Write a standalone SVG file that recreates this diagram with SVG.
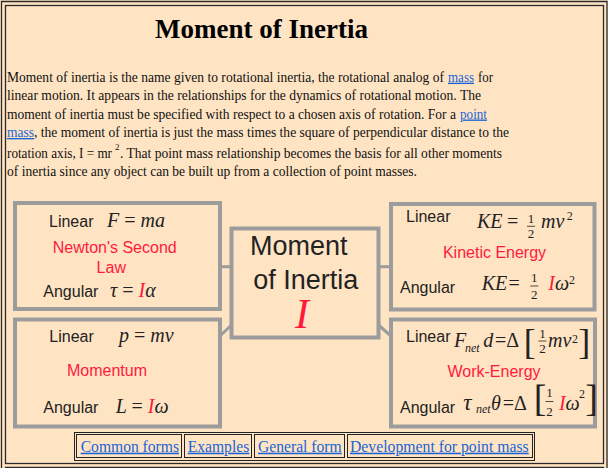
<svg xmlns="http://www.w3.org/2000/svg" width="608" height="468" viewBox="0 0 608 468">
<style>
.frame{fill:none;stroke:#2a2a2a;stroke-width:1.3}
.body{font-family:"Liberation Serif","Times New Roman",serif;font-size:13.6px;fill:#111}
.lnk{fill:#1a64d6;text-decoration:underline}
.title{font-family:"Liberation Serif","Times New Roman",serif;font-size:27px;font-weight:bold;fill:#000}
.box{fill:#ffe4c4;stroke:#9c9c9c;stroke-width:4}
.conn{stroke:#9c9c9c;stroke-width:3;fill:none}
.lbl{font-family:"Liberation Sans",Arial,sans-serif;font-size:16px;fill:#222}
.big{font-family:"Liberation Sans",Arial,sans-serif;font-size:27px;fill:#222}
.m{font-family:"Liberation Serif","Times New Roman",serif;font-style:italic;font-size:20px;fill:#222}
.r{font-style:normal}
.fr{font-family:"Liberation Serif","Times New Roman",serif;font-size:13px;fill:#222}
.sup{font-family:"Liberation Serif","Times New Roman",serif;font-size:12px;fill:#222}
.sub{font-family:"Liberation Serif","Times New Roman",serif;font-style:italic;font-size:12px;fill:#222}
.br{font-family:"Liberation Serif","Times New Roman",serif;fill:#222}
.bar{stroke:#222;stroke-width:0.8}
.cell{fill:none;stroke:#222;stroke-width:1}
.nav{font-family:"Liberation Serif","Times New Roman",serif;font-size:15.7px;fill:#1a64d6;text-decoration:underline}
.red{fill:#ff1a3c}
</style>
<rect x="0" y="0" width="608" height="468" fill="#ffe4c4"/>
<path class="frame" d="M1.5,468V1.5H607V468"/>
<rect class="frame" x="5.5" y="5.5" width="598" height="458"/>
<path class="frame" d="M5.5,468V467.5H603.5V468"/>

<text class="title" x="261.5" y="38" text-anchor="middle">Moment of Inertia</text>

<g id="intro">
<text class="body" x="7" y="81.7" textLength="437" lengthAdjust="spacingAndGlyphs">Moment of inertia is the name given to rotational inertia, the rotational analog of</text>
<text class="body lnk" x="448" y="81.7" textLength="26" lengthAdjust="spacingAndGlyphs">mass</text>
<text class="body" x="478" y="81.7" textLength="15" lengthAdjust="spacingAndGlyphs">for</text>
<text class="body" x="7" y="100" textLength="474" lengthAdjust="spacingAndGlyphs">linear motion. It appears in the relationships for the dynamics of rotational motion. The</text>
<text class="body" x="7" y="118.5" textLength="449" lengthAdjust="spacingAndGlyphs">moment of inertia must be specified with respect to a chosen axis of rotation. For a</text>
<text class="body lnk" x="460" y="118.5" textLength="27" lengthAdjust="spacingAndGlyphs">point</text>
<text class="body lnk" x="7" y="137" textLength="27" lengthAdjust="spacingAndGlyphs">mass</text>
<text class="body" x="34" y="137" textLength="475" lengthAdjust="spacingAndGlyphs">, the moment of inertia is just the mass times the square of perpendicular distance to the</text>
<text class="body" x="7" y="158" textLength="105" lengthAdjust="spacingAndGlyphs">rotation axis, I = mr</text>
<text class="body" x="115" y="150" style="font-size:9px">2</text>
<text class="body" x="120" y="158" textLength="382" lengthAdjust="spacingAndGlyphs">. That point mass relationship becomes the basis for all other moments</text>
<text class="body" x="7" y="176" textLength="410" lengthAdjust="spacingAndGlyphs">of inertia since any object can be built up from a collection of point masses.</text>
</g>

<g id="connectors">
<line class="conn" x1="220" y1="266.7" x2="232" y2="266.7"/>
<line class="conn" x1="378" y1="266.7" x2="391" y2="266.7"/>
<line class="conn" x1="231.5" y1="325" x2="220" y2="336"/>
<line class="conn" x1="378.5" y1="325" x2="391" y2="336"/>
</g>

<g id="newton">
<rect class="box" x="15" y="203" width="205" height="106"/>
<text class="lbl" x="49" y="227">Linear</text>
<text class="m" x="107" y="227">F <tspan class="r">=</tspan> ma</text>
<text class="lbl red" x="114.7" y="253.3" text-anchor="middle">Newton's Second</text>
<text class="lbl red" x="111.3" y="272.7" text-anchor="middle">Law</text>
<text class="lbl" x="43.3" y="296.7">Angular</text>
<text class="m" x="110" y="296.7">τ <tspan class="r">=</tspan> <tspan class="red">I</tspan>α</text>
</g>

<g id="momentum">
<rect class="box" x="15" y="319.5" width="205" height="107"/>
<text class="lbl" x="49.3" y="341.7">Linear</text>
<text class="m" x="119" y="341.7">p <tspan class="r">=</tspan> mv</text>
<text class="lbl red" x="107" y="376" text-anchor="middle">Momentum</text>
<text class="lbl" x="43.3" y="412.7">Angular</text>
<text class="m" x="115.7" y="412.7">L <tspan class="r">=</tspan> <tspan class="red">I</tspan>ω</text>
</g>

<g id="center">
<rect class="box" x="231.5" y="228.5" width="147" height="109"/>
<text class="big" x="250" y="255">Moment</text>
<text class="big" x="253.3" y="289.3">of Inertia</text>
<text class="m red" x="302" y="328" text-anchor="middle" style="font-size:42px">I</text>
</g>

<g id="kinetic">
<rect class="box" x="391" y="204" width="203.5" height="105.5"/>
<text class="lbl" x="406" y="221.7">Linear</text>
<text class="m" y="228.3"><tspan x="477">KE</tspan><tspan x="507" class="r">=</tspan><tspan x="541">mv</tspan></text>
<text class="fr" x="531" y="223" text-anchor="middle">1</text>
<line class="bar" x1="527" y1="226.3" x2="535" y2="226.3"/>
<text class="fr" x="531" y="237.6" text-anchor="middle">2</text>
<text class="sup" x="566.7" y="220">2</text>
<text class="lbl red" x="494.5" y="258.3" text-anchor="middle">Kinetic Energy</text>
<text class="lbl" x="400" y="292.7">Angular</text>
<text class="m" y="290"><tspan x="481.7">KE</tspan><tspan x="508.5" class="r">=</tspan><tspan x="548.3" class="red">I</tspan><tspan>ω</tspan></text>
<text class="fr" x="534.3" y="282.3" text-anchor="middle">1</text>
<line class="bar" x1="530.3" y1="286" x2="538.3" y2="286"/>
<text class="fr" x="534.3" y="299.3" text-anchor="middle">2</text>
<text class="sup" x="569" y="284.3">2</text>
</g>

<g id="work">
<rect class="box" x="391" y="319.5" width="204" height="107"/>
<text class="lbl" x="406" y="341.7">Linear</text>
<text class="m" x="454" y="346.7">F</text>
<text class="sub" x="465" y="351.7">net</text>
<text class="m" x="483.3" y="346.7">d</text>
<text class="m r" x="495" y="346.7">=Δ</text>
<text class="br" x="523.7" y="354" font-size="36">[</text>
<text class="fr" x="542.5" y="338" text-anchor="middle">1</text>
<line class="bar" x1="538.5" y1="341" x2="546.5" y2="341"/>
<text class="fr" x="542.5" y="352.7" text-anchor="middle">2</text>
<text class="m" x="548" y="346.7">mv</text>
<text class="sup" x="572" y="342.5">2</text>
<text class="br" x="578.3" y="354" font-size="36">]</text>
<text class="lbl red" x="494" y="376.7" text-anchor="middle">Work-Energy</text>
<text class="lbl" x="400" y="412.7">Angular</text>
<text class="m" x="463.3" y="410" style="font-size:23px">τ</text>
<text class="sub" x="476" y="413.3">net</text>
<text class="m" x="491" y="410">θ</text>
<text class="m r" x="502.7" y="410">=Δ</text>
<text class="br" x="533.7" y="411" font-size="38">[</text>
<text class="fr" x="549.5" y="397.3" text-anchor="middle">1</text>
<line class="bar" x1="545.5" y1="401.5" x2="553.5" y2="401.5"/>
<text class="fr" x="549.5" y="416" text-anchor="middle">2</text>
<text class="m" y="410"><tspan x="559" class="red">I</tspan><tspan x="565.5">ω</tspan></text>
<text class="sup" x="579" y="398.3">2</text>
<text class="br" x="585.3" y="411" font-size="38">]</text>
</g>

<g id="nav">
<rect class="cell" x="74.5" y="432.5" width="460" height="28"/>
<rect class="cell" x="76.5" y="434.5" width="105" height="23"/>
<rect class="cell" x="184.5" y="434.5" width="67" height="23"/>
<rect class="cell" x="254.5" y="434.5" width="90" height="23"/>
<rect class="cell" x="347.5" y="434.5" width="185" height="23"/>
<text class="nav" x="80.7" y="451.7" textLength="98.3" lengthAdjust="spacingAndGlyphs">Common forms</text>
<text class="nav" x="187.7" y="451.7" textLength="61.6" lengthAdjust="spacingAndGlyphs">Examples</text>
<text class="nav" x="258" y="451.7" textLength="83.7" lengthAdjust="spacingAndGlyphs">General form</text>
<text class="nav" x="350" y="451.7" textLength="178.7" lengthAdjust="spacingAndGlyphs">Development for point mass</text>
</g>
</svg>
